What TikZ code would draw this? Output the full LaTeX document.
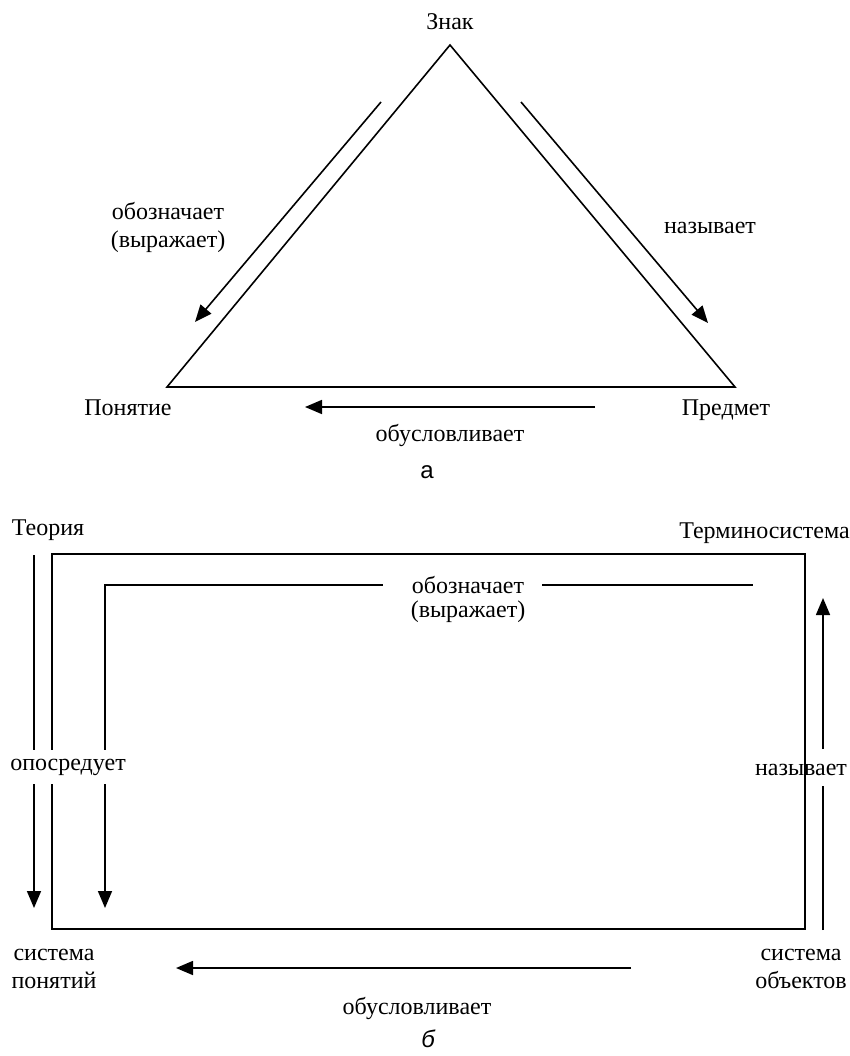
\documentclass[tikz,border=0pt]{standalone}
\usepackage{fontspec}
\setmainfont{Liberation Serif}
\setsansfont{Liberation Sans}
\usetikzlibrary{arrows.meta}

\tikzset{
  lbl/.style={font=\fontsize{24}{28}\selectfont, inner sep=0pt, align=center},
  capt/.style={font=\sffamily\fontsize{24}{28}\selectfont, inner sep=0pt},
  edge/.style={line width=1.6pt},
  rel/.style={line width=1.6pt, -{Triangle[length=17pt,width=14pt]}},
}

\begin{document}
\begin{tikzpicture}[x=1pt, y=-1pt]
\useasboundingbox (0,0) rectangle (850,1056);

% a
\node[lbl] (znak) at (450,22) {Знак};
\node[lbl, anchor=base] (ponyatie) at (128,415) {Понятие};
\node[lbl, anchor=base] (predmet) at (726,415) {Предмет};
\coordinate (apex) at (450,45);
\coordinate (baseL) at (167,387);
\coordinate (baseR) at (735,387);
\draw[edge] (apex) -- (baseL) -- (baseR) -- cycle;

\coordinate (oboznA1) at (381,102);
\coordinate (oboznA2) at (195,322);
\draw[rel] (oboznA1) -- (oboznA2);
\node[lbl] (oboznA) at (168,227) {обозначает\\(выражает)};

\coordinate (nazA1) at (521,102);
\coordinate (nazA2) at (708,323);
\draw[rel] (nazA1) -- (nazA2);
\node[lbl] (nazA) at (710,228) {называет};

\coordinate (obuslA1) at (595,407);
\coordinate (obuslA2) at (305,407);
\draw[rel] (obuslA1) -- (obuslA2);
\node[lbl] (obuslA) at (450,435) {обусловливает};
\node[capt] (captA) at (427,472) {а};

% b
\node[lbl] (teoriya) at (48,530) {Теория};
\node[lbl, anchor=east] (termin) at (850,533) {Терминосистема};
\coordinate (boxTL) at (52,554);
\coordinate (boxBR) at (805,929);
\draw[edge] (boxTL) rectangle (boxBR);

\node[lbl] (oboznB) at (468,585) {обозначает};
\node[lbl] (vyrazhB) at (468,612) {(выражает)};
\coordinate (oboznB1) at (753,585);
\coordinate (oboznB2) at (105,908);
\draw[edge] ([xshift=18pt]oboznB.east) -- (oboznB1);
\draw[rel] ([xshift=-29pt]oboznB.west) -| (oboznB2);

\coordinate (oposr1) at (34,555);
\coordinate (oposr2) at (34,908);
\draw[rel] (oposr1) -- (oposr2);
\node[lbl, fill=white, inner ysep=9pt] (oposr) at (68,767) {опосредует};

\node[lbl] (sysPon) at (54,969) {система\\понятий};
\node[lbl] (sysObj) at (801,969) {система\\объектов};

\coordinate (nazB1) at (823,930);
\coordinate (nazB2) at (823,786);
\coordinate (nazB3) at (823,749);
\coordinate (nazB4) at (823,598);
\draw[edge] (nazB1) -- (nazB2);
\draw[rel] (nazB3) -- (nazB4);
\node[lbl] (nazB) at (801,770) {называет};

\coordinate (obuslB1) at (631,968);
\coordinate (obuslB2) at (176,968);
\draw[rel] (obuslB1) -- (obuslB2);
\node[lbl] (obuslB) at (417,1008) {обусловливает};
\node[capt, font=\sffamily\itshape\fontsize{24}{28}\selectfont] (captB) at (428,1039) {б};
\end{tikzpicture}
\end{document}
